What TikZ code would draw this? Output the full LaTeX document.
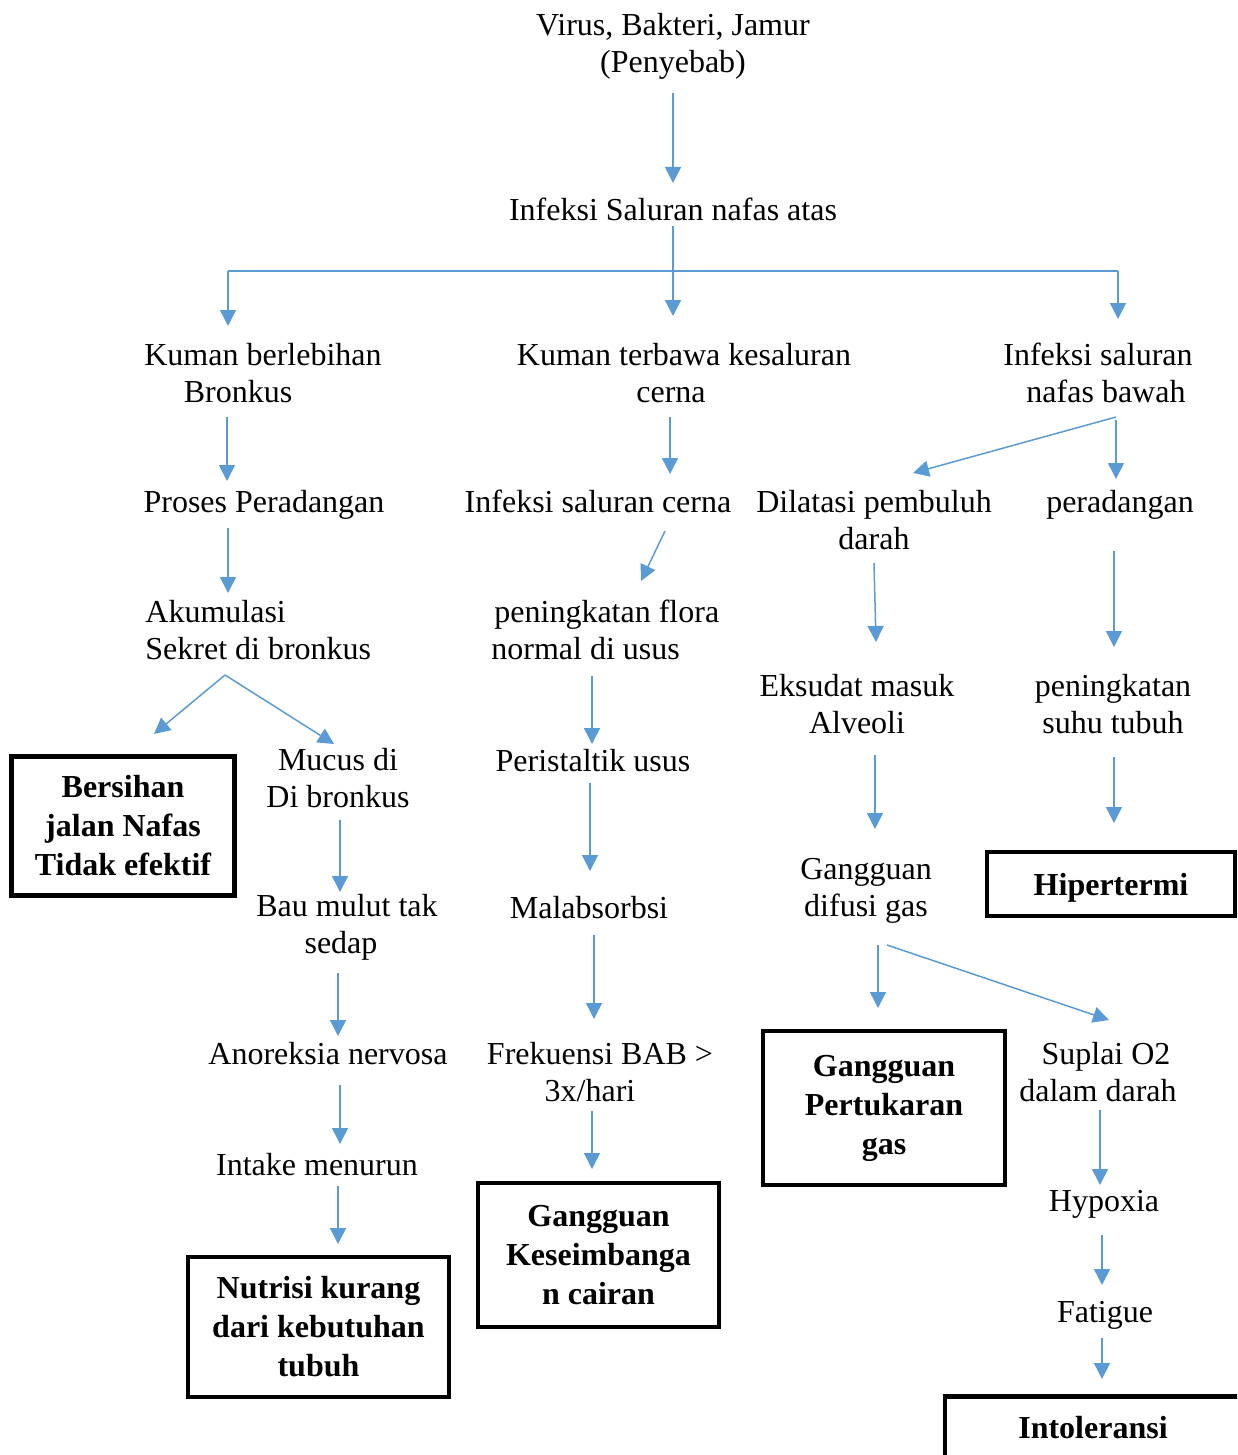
\documentclass[tikz,border=0pt]{standalone}
\usepackage{fontspec}
\setmainfont{Liberation Serif}
\usetikzlibrary{arrows.meta}
\definecolor{arrblue}{HTML}{5B9BD5}
\begin{document}
\begin{tikzpicture}[x=0.5pt,y=-0.5pt,
  lbl/.style={font=\fontsize{16}{18.5}\selectfont, align=center, inner sep=0pt},
  lbll/.style={font=\fontsize{16}{18.5}\selectfont, align=left, inner sep=0pt, anchor=west},
  bx/.style={draw, line width=2.3pt, font=\fontsize{16}{19.5}\selectfont\bfseries, align=center, inner sep=0pt},
  conn/.style={draw=arrblue, line width=0.75pt},
  arr/.style={conn, -{Triangle[length=8pt,width=8pt]}}]
\useasboundingbox (0,0) rectangle (1237,1455);
\clip (0,0) rectangle (1237,1455);
% ---------- text nodes ----------
\node[lbl] (virus) at (673,46) {Virus, Bakteri, Jamur\\(Penyebab)};
\node[lbl] (ispa) at (673,209) {Infeksi Saluran nafas atas};
\node[lbl] (kuman) at (263,373) {Kuman berlebihan\\Bronkus\hspace*{25pt}};
\node[lbl] (terbawa) at (684,373) {Kuman terbawa kesaluran\\cerna\hspace*{13pt}};
\node[lbl] (bawah) at (1098,373) {Infeksi saluran\\\hspace*{8pt}nafas bawah};
\node[lbl] (proses) at (264,505) {Proses Peradangan};
\node[lbl] (cerna) at (598,501) {Infeksi saluran cerna};
\node[lbl] (dilatasi) at (874,520) {Dilatasi pembuluh\\darah};
\node[lbl] (radang) at (1120,505) {peradangan};
\node[lbll] (akum) at (145,630) {Akumulasi\\Sekret di bronkus};
\node[lbll] (flora) at (491,630) {\hspace*{1.5pt}peningkatan flora\\normal di usus};
\node[lbl] (eksudat) at (857,704) {Eksudat masuk\\Alveoli};
\node[lbl] (suhu) at (1113,704) {peningkatan\\suhu tubuh};
\node[lbl] (mucus) at (338,778) {Mucus di\\Di bronkus};
\node[lbl] (peristaltik) at (593,761) {Peristaltik usus};
\node[lbl] (difusi) at (866,891) {Gangguan\\difusi gas};
\node[lbl] (bau) at (347,927) {Bau mulut tak\\sedap\hspace*{6pt}};
\node[lbl] (malab) at (589,908) {Malabsorbsi};
\node[lbl] (anor) at (328,1054) {Anoreksia nervosa};
\node[lbl] (frek) at (600,1072) {Frekuensi BAB >\\3x/hari\hspace*{10pt}};
\node[lbl] (suplai) at (1098,1072) {\hspace*{8pt}Suplai O2\\dalam darah};
\node[lbl] (intake) at (317,1165) {Intake menurun};
\node[lbl] (hypoxia) at (1104,1204) {Hypoxia};
\node[lbl] (fatigue) at (1105,1315) {Fatigue};
% ---------- boxes ----------
\node[bx, minimum width=111.7pt, minimum height=69.7pt] (bersihan) at (123,826) {Bersihan\\jalan Nafas\\Tidak efektif};
\node[bx, minimum width=124pt, minimum height=32pt, text depth=0pt] (hiper) at (1111,884) {Hipertermi};
\node[bx, minimum width=121pt, minimum height=77pt] (pertukaran) at (884,1108) {Gangguan\\Pertukaran\\gas};
\node[bx, minimum width=120.5pt, minimum height=72pt] (keseimb) at (598.5,1255) {Gangguan\\Keseimbanga\\n cairan};
\node[bx, minimum width=130.5pt, minimum height=70pt] (nutrisi) at (318.5,1327) {Nutrisi kurang\\dari kebutuhan\\tubuh};
\node[bx, anchor=north, inner ysep=10pt, text height=11pt, text depth=40pt, minimum width=148pt] (intol) at (1093,1394) {Intoleransi};
% ---------- connector ends ----------
\coordinate (virus-o) at (673,93);   \coordinate (ispa-i) at (673,183);
\coordinate (ispa-o) at (673,226);   \coordinate (terbawa-i) at (673,316);
\coordinate (bus-l) at (228,271);    \coordinate (bus-r) at (1118,271);
\coordinate (kuman-i) at (228,326);  \coordinate (bawah-i) at (1118,319);
\coordinate (kuman-o) at (227,417);  \coordinate (proses-i) at (227,481);
\coordinate (proses-o) at (228,528); \coordinate (akum-i) at (228,593);
\coordinate (akum-o) at (225,675);   \coordinate (bersihan-i) at (154,734);
\coordinate (mucus-i) at (334,744);
\coordinate (mucus-o) at (340,820);  \coordinate (bau-i) at (340,892);
\coordinate (bau-o) at (338,973);    \coordinate (anor-i) at (338,1036);
\coordinate (anor-o) at (340,1085);  \coordinate (intake-i) at (340,1144);
\coordinate (intake-o) at (338,1186);\coordinate (nutrisi-i) at (338,1244);
\coordinate (terbawa-o) at (670,417);\coordinate (cerna-i) at (670,474);
\coordinate (cerna-o) at (665,531);  \coordinate (flora-i) at (641,581);
\coordinate (flora-o) at (592,676);  \coordinate (peri-i) at (592,744);
\coordinate (peri-o) at (590,783);   \coordinate (malab-i) at (590,871);
\coordinate (malab-o) at (594,935);  \coordinate (frek-i) at (594,1019);
\coordinate (frek-o) at (592,1111);  \coordinate (kes-i) at (592,1169);
\coordinate (bawah-o) at (1116,417); \coordinate (dil-i) at (913,473);
\coordinate (bawah-o2) at (1116,420);\coordinate (radang-i) at (1116,479);
\coordinate (dil-o) at (874,563);    \coordinate (eks-i) at (876,642);
\coordinate (radang-o) at (1114,551);\coordinate (suhu-i) at (1114,647);
\coordinate (eks-o) at (875,755);    \coordinate (difusi-i) at (875,829);
\coordinate (suhu-o) at (1114,757);  \coordinate (hiper-i) at (1114,823);
\coordinate (difusi-o) at (878,945); \coordinate (pert-i) at (878,1008);
\coordinate (difusi-o2) at (887,945);\coordinate (suplai-i) at (1109,1020);
\coordinate (suplai-o) at (1100,1110);\coordinate (hyp-i) at (1100,1185);
\coordinate (hyp-o) at (1102,1235);  \coordinate (fat-i) at (1102,1285);
\coordinate (fat-o) at (1102,1338);  \coordinate (intol-i) at (1102,1379);
% ---------- connectors ----------
\draw[arr] (virus-o) -- (ispa-i);
\draw[conn] (bus-l) -- (bus-r);
\draw[arr] (ispa-o) -- (terbawa-i);
\draw[arr] (bus-l) -- (kuman-i);
\draw[arr] (bus-r) -- (bawah-i);
\draw[arr] (kuman-o) -- (proses-i);
\draw[arr] (proses-o) -- (akum-i);
\draw[arr] (akum-o) -- (bersihan-i);
\draw[arr] (akum-o) -- (mucus-i);
\draw[arr] (mucus-o) -- (bau-i);
\draw[arr] (bau-o) -- (anor-i);
\draw[arr] (anor-o) -- (intake-i);
\draw[arr] (intake-o) -- (nutrisi-i);
\draw[arr] (terbawa-o) -- (cerna-i);
\draw[arr] (cerna-o) -- (flora-i);
\draw[arr] (flora-o) -- (peri-i);
\draw[arr] (peri-o) -- (malab-i);
\draw[arr] (malab-o) -- (frek-i);
\draw[arr] (frek-o) -- (kes-i);
\draw[arr] (bawah-o) -- (dil-i);
\draw[arr] (bawah-o2) -- (radang-i);
\draw[arr] (dil-o) -- (eks-i);
\draw[arr] (radang-o) -- (suhu-i);
\draw[arr] (eks-o) -- (difusi-i);
\draw[arr] (suhu-o) -- (hiper-i);
\draw[arr] (difusi-o) -- (pert-i);
\draw[arr] (difusi-o2) -- (suplai-i);
\draw[arr] (suplai-o) -- (hyp-i);
\draw[arr] (hyp-o) -- (fat-i);
\draw[arr] (fat-o) -- (intol-i);
\end{tikzpicture}
\end{document}
